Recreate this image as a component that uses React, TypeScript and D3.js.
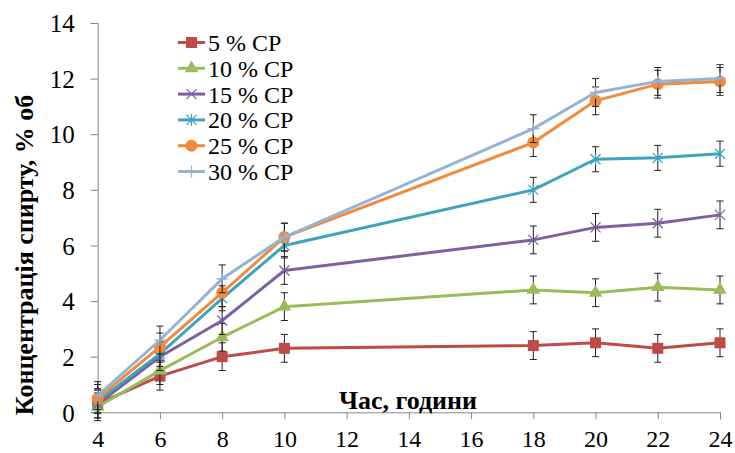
import { useRef, useEffect } from "react";
import * as d3 from "d3";

const hours = [4, 6, 8, 10, 18, 20, 22, 24];
const xTicks = [4, 6, 8, 10, 12, 14, 16, 18, 20, 22, 24];
const yTicks = [0, 2, 4, 6, 8, 10, 12, 14];

const seriesNames = ["5 % CP", "10 % CP", "15 % CP", "20 % CP", "25 % CP", "30 % CP"];
const cp5 = [0.3, 1.3, 2.0, 2.3, 2.4, 2.5, 2.3, 2.5];
const cp10 = [0.2, 1.5, 2.7, 3.8, 4.4, 4.3, 4.5, 4.4];
const cp15 = [0.3, 2.0, 3.3, 5.1, 6.2, 6.65, 6.8, 7.1];
const cp20 = [0.4, 2.1, 4.1, 6.0, 8.0, 9.1, 9.15, 9.3];
const cp25 = [0.5, 2.35, 4.3, 6.3, 9.7, 11.2, 11.8, 11.9];
const cp30 = [0.6, 2.6, 4.8, 6.3, 10.2, 11.5, 11.9, 12.0];
const errs = [0.5, 0.5, 0.5, 0.45, 0.5, 0.5];

const colors = ["#BE4B48", "#9BBB59", "#7D60A0", "#3FA3BD", "#F08A3C", "#95B3D7"];
const markers = ["square", "triangle", "x", "star", "circle", "plus"];

const font = "Liberation Serif, serif"

function drawMarker(g: d3.Selection<SVGGElement, unknown, null, undefined>, kind: string, x: number, y: number, color: string) {
  if (kind === "square") {
    g.append("rect").attr("x", x - 5.5).attr("y", y - 5.5).attr("width", 11).attr("height", 11).attr("fill", color)
  } else if (kind === "triangle") {
    g.append("path").attr("transform", `translate(${x},${y})`).attr("d", d3.symbol(d3.symbolTriangle, 80)()).attr("fill", color)
  } else if (kind === "circle") {
    g.append("circle").attr("cx", x).attr("cy", y).attr("r", 6).attr("fill", color)
  } else {
    const s = 5
    const segs: number[][] = []
    if (kind === "x" || kind === "star") segs.push([-s, -s, s, s], [-s, s, s, -s])
    if (kind === "star") segs.push([0, -s - 1, 0, s + 1])
    if (kind === "plus") segs.push([-s - 1, 0, s + 1, 0], [0, -s - 1, 0, s + 1])
    segs.forEach(d => {
      g.append("line").attr("x1", x + d[0]).attr("y1", y + d[1]).attr("x2", x + d[2]).attr("y2", y + d[3])
        .attr("stroke", color).attr("stroke-width", 1.3)
    })
  }
}

export default function App() {
  const svgRef = useRef<SVGSVGElement>(null)

  useEffect(() => {
    if (!svgRef.current) return
    const svg = d3.select(svgRef.current)
    svg.selectAll("*").remove()

    const allSeries = [cp5, cp10, cp15, cp20, cp25, cp30]
    const x = d3.scaleLinear([4, 24], [97.7, 720])
    const y = d3.scaleLinear([0, 14], [412.3, 23])

    // axes
    const yAxis = svg.append("g").attr("transform", "translate(97.7,0)")
      .call(d3.axisLeft(y).tickValues(yTicks).tickSize(7).tickPadding(16))
    const xAxis = svg.append("g").attr("transform", "translate(0,412.3)")
      .call(d3.axisBottom(x).tickValues(xTicks).tickSize(7).tickSizeOuter(7).tickPadding(11))
    ;[yAxis, xAxis].forEach(a => {
      a.attr("font-family", null).attr("font-size", null)
      a.select(".domain").attr("stroke", "#868686")
      a.selectAll("line").attr("stroke", "#868686")
      a.selectAll("text").style("font-family", font).style("font-size", "25px").attr("fill", "#000")
    })
    yAxis.selectAll("text").attr("dy", "0.35em")
    xAxis.selectAll("text").style("font-size", "24px").attr("dy", "0.71em")

    // series
    const line = d3.line<number>().x((_, i) => x(hours[i])).y(d => y(d))
    allSeries.forEach((vals, si) => {
      const g = svg.append("g")
      g.append("path").attr("d", line(vals)).attr("fill", "none")
        .attr("stroke", colors[si]).attr("stroke-width", 3).attr("stroke-linejoin", "round")
      vals.forEach((v, i) => {
        const cx = x(hours[i])
        const top = y(v + errs[si]), bot = y(v - errs[si])
        g.append("line").attr("x1", cx).attr("x2", cx).attr("y1", top).attr("y2", bot).attr("stroke", "#222").attr("stroke-width", 1)
        ;[top, bot].forEach(yy => g.append("line").attr("x1", cx - 3.5).attr("x2", cx + 3.5).attr("y1", yy).attr("y2", yy).attr("stroke", "#222").attr("stroke-width", 1))
      })
      vals.forEach((v, i) => drawMarker(g, markers[si], x(hours[i]), y(v), colors[si]))
    })

    // legend
    const lg = svg.append("g")
    seriesNames.forEach((name, i) => {
      const ly = 42.5 + i * 25.8
      lg.append("line").attr("x1", 178).attr("x2", 205).attr("y1", ly).attr("y2", ly)
        .attr("stroke", colors[i]).attr("stroke-width", 3)
      drawMarker(lg, markers[i], 191.5, ly, colors[i])
      lg.append("text").attr("x", 208).attr("y", ly).attr("dy", "0.35em")
        .style("font-family", font).style("font-size", "24px").text(name)
    })

    // titles
    svg.append("text").attr("x", 408).attr("y", 409).attr("text-anchor", "middle")
      .style("font-family", font).style("font-size", "26px").attr("font-weight", "bold").text("Час, години")
    svg.append("text").attr("transform", "translate(32.5,255) rotate(-90)").attr("text-anchor", "middle")
      .style("font-family", font).style("font-size", "26px").attr("font-weight", "bold").text("Концентрація спирту, % об")
  }, [])

  return (
    <svg ref={svgRef} width={735} height={453} style={{ position: "absolute", left: 0, top: 0, background: "#fff" }} />
  )
}
